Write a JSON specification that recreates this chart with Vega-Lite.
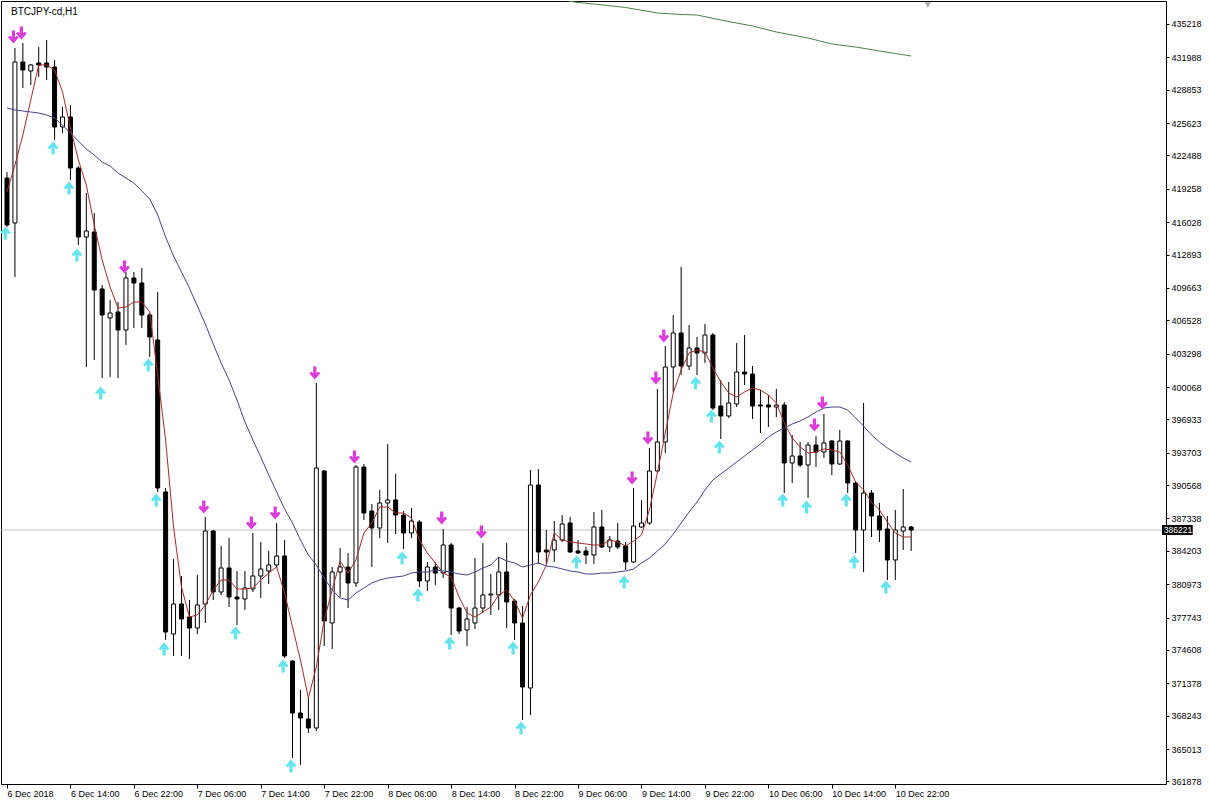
{
"$schema": "https://vega.github.io/schema/vega-lite/v6.json",
"width": 1165, "height": 783,
"autosize": {"type": "none"},
"padding": {"left": 1, "top": 1, "right": 44, "bottom": 22},
"background": "#ffffff",
"config": {"view": {"stroke": "#000000", "strokeWidth": 1}, "font": "Liberation Sans", "axis": {"labelOverlap": false, "labelSeparation": 0, "labelFlush": false, "labelBound": false, "grid": false, "title": null}},
"datasets": {
"candles": [
{"i":0,"open":420306,"high":420887,"low":415562,"close":415755},
{"i":1,"open":415949,"high":432894,"low":410720,"close":431539},
{"i":2,"open":431539,"high":433378,"low":429021,"close":430764},
{"i":3,"open":430667,"high":431345,"low":429311,"close":431248},
{"i":4,"open":431442,"high":432991,"low":430086,"close":431248},
{"i":5,"open":431442,"high":433669,"low":429796,"close":431054},
{"i":6,"open":431054,"high":431732,"low":423986,"close":425245},
{"i":7,"open":425245,"high":427181,"low":424664,"close":426213},
{"i":8,"open":426213,"high":427375,"low":420113,"close":421275},
{"i":9,"open":421275,"high":421470,"low":413819,"close":414593},
{"i":10,"open":414593,"high":418854,"low":402005,"close":415174},
{"i":11,"open":415077,"high":416917,"low":402683,"close":409461},
{"i":12,"open":409558,"high":409945,"low":400940,"close":407041},
{"i":13,"open":406750,"high":408493,"low":401037,"close":407234},
{"i":14,"open":407331,"high":408299,"low":400940,"close":405588},
{"i":15,"open":405588,"high":411204,"low":404136,"close":410623},
{"i":16,"open":410623,"high":411204,"low":405782,"close":410139},
{"i":17,"open":410139,"high":411592,"low":405782,"close":407041},
{"i":18,"open":407041,"high":407234,"low":402974,"close":404910},
{"i":19,"open":404620,"high":409268,"low":389902,"close":390289},
{"i":20,"open":389902,"high":390289,"low":375571,"close":376345},
{"i":21,"open":376152,"high":383414,"low":374021,"close":379057},
{"i":22,"open":379057,"high":381768,"low":374021,"close":377604},
{"i":23,"open":377798,"high":379444,"low":373731,"close":376733},
{"i":24,"open":376733,"high":381865,"low":376152,"close":378960},
{"i":25,"open":379057,"high":387481,"low":377217,"close":386125},
{"i":26,"open":386125,"high":386222,"low":379444,"close":380219},
{"i":27,"open":380219,"high":384673,"low":379928,"close":382543},
{"i":28,"open":382543,"high":385447,"low":378766,"close":379735},
{"i":29,"open":379735,"high":382252,"low":377023,"close":379541},
{"i":30,"open":379541,"high":382252,"low":378476,"close":380606},
{"i":31,"open":380509,"high":385932,"low":380219,"close":381768},
{"i":32,"open":381768,"high":385060,"low":379638,"close":382446},
{"i":33,"open":382252,"high":384189,"low":380993,"close":382833},
{"i":34,"open":382833,"high":386900,"low":382543,"close":383705},
{"i":35,"open":383705,"high":385254,"low":373828,"close":374021},
{"i":36,"open":373537,"high":373634,"low":364145,"close":368502},
{"i":37,"open":368502,"high":370729,"low":363467,"close":368018},
{"i":38,"open":367921,"high":369955,"low":366566,"close":367050},
{"i":39,"open":367050,"high":400456,"low":366759,"close":392226},
{"i":40,"open":391935,"high":392032,"low":374990,"close":377411},
{"i":41,"open":377217,"high":382639,"low":374699,"close":382155},
{"i":42,"open":382155,"high":384479,"low":379735,"close":382639},
{"i":43,"open":382639,"high":383995,"low":378669,"close":381090},
{"i":44,"open":381090,"high":392516,"low":380703,"close":392322},
{"i":45,"open":392322,"high":392613,"low":387190,"close":387868},
{"i":46,"open":388062,"high":388740,"low":382639,"close":386416},
{"i":47,"open":386416,"high":390095,"low":385447,"close":388837},
{"i":48,"open":388837,"high":394550,"low":384963,"close":389127},
{"i":49,"open":389127,"high":391645,"low":385835,"close":387675},
{"i":50,"open":387675,"high":388062,"low":384382,"close":385932},
{"i":51,"open":385932,"high":388352,"low":385447,"close":387094},
{"i":52,"open":386997,"high":387190,"low":380703,"close":381284},
{"i":53,"open":381284,"high":383124,"low":380316,"close":382639},
{"i":54,"open":382639,"high":383124,"low":380896,"close":382058},
{"i":55,"open":382058,"high":386319,"low":381574,"close":384770},
{"i":56,"open":384770,"high":384963,"low":376055,"close":378669},
{"i":57,"open":378669,"high":378766,"low":376152,"close":376442},
{"i":58,"open":376539,"high":378766,"low":374990,"close":377604},
{"i":59,"open":377217,"high":383511,"low":376636,"close":378669},
{"i":60,"open":378669,"high":384963,"low":378185,"close":379928},
{"i":61,"open":379928,"high":381962,"low":377992,"close":380025},
{"i":62,"open":379928,"high":383608,"low":378476,"close":382155},
{"i":63,"open":382155,"high":384963,"low":376733,"close":379250},
{"i":64,"open":379347,"high":379541,"low":375571,"close":377217},
{"i":65,"open":377217,"high":378863,"low":367824,"close":371020},
{"i":66,"open":370923,"high":392032,"low":368309,"close":390579},
{"i":67,"open":390579,"high":392129,"low":382930,"close":384092},
{"i":68,"open":384286,"high":386222,"low":382930,"close":384092},
{"i":69,"open":384286,"high":387094,"low":383124,"close":385254},
{"i":70,"open":385254,"high":387675,"low":385060,"close":386803},
{"i":71,"open":386900,"high":387481,"low":383995,"close":384092},
{"i":72,"open":384189,"high":385254,"low":383897,"close":383995},
{"i":73,"open":384189,"high":384576,"low":382930,"close":383801},
{"i":74,"open":383801,"high":387965,"low":382930,"close":386513},
{"i":75,"open":386513,"high":388159,"low":384479,"close":384576},
{"i":76,"open":384576,"high":385641,"low":384092,"close":385254},
{"i":77,"open":385157,"high":386900,"low":384382,"close":384576},
{"i":78,"open":384673,"high":385060,"low":382349,"close":383124},
{"i":79,"open":383124,"high":390289,"low":383027,"close":386609},
{"i":80,"open":386513,"high":389127,"low":386416,"close":386900},
{"i":81,"open":386900,"high":394162,"low":386706,"close":391935},
{"i":82,"open":391935,"high":399875,"low":391741,"close":394743},
{"i":83,"open":394743,"high":404039,"low":393678,"close":402005},
{"i":84,"open":402005,"high":407041,"low":399585,"close":405298},
{"i":85,"open":405298,"high":411688,"low":401231,"close":402102},
{"i":86,"open":402102,"high":406072,"low":401715,"close":403845},
{"i":87,"open":403845,"high":404910,"low":401231,"close":403361},
{"i":88,"open":403361,"high":406169,"low":402393,"close":405104},
{"i":89,"open":405104,"high":405298,"low":397842,"close":398035},
{"i":90,"open":398229,"high":400747,"low":395034,"close":397261},
{"i":91,"open":397261,"high":400553,"low":397067,"close":398520},
{"i":92,"open":398423,"high":404329,"low":398132,"close":401521},
{"i":93,"open":401521,"high":405104,"low":400262,"close":401328},
{"i":94,"open":401328,"high":402102,"low":396970,"close":398229},
{"i":95,"open":398326,"high":399778,"low":395615,"close":398229},
{"i":96,"open":398326,"high":399294,"low":396196,"close":398132},
{"i":97,"open":398132,"high":399875,"low":397164,"close":398326},
{"i":98,"open":398326,"high":398616,"low":389805,"close":392710},
{"i":99,"open":392710,"high":395421,"low":390773,"close":393388},
{"i":100,"open":393388,"high":394743,"low":392322,"close":392516},
{"i":101,"open":392516,"high":394743,"low":389321,"close":394453},
{"i":102,"open":394453,"high":395324,"low":392322,"close":393775},
{"i":103,"open":393775,"high":397454,"low":393194,"close":394646},
{"i":104,"open":394840,"high":394937,"low":391548,"close":392613},
{"i":105,"open":392613,"high":395905,"low":392516,"close":394840},
{"i":106,"open":394840,"high":394937,"low":389805,"close":390773},
{"i":107,"open":390773,"high":390870,"low":383995,"close":386222},
{"i":108,"open":386222,"high":398520,"low":382155,"close":389805},
{"i":109,"open":389805,"high":390095,"low":385544,"close":387578},
{"i":110,"open":387578,"high":388837,"low":385060,"close":386222},
{"i":111,"open":386319,"high":387578,"low":381381,"close":383317},
{"i":112,"open":383317,"high":388159,"low":381381,"close":386222},
{"i":113,"open":386125,"high":390192,"low":384286,"close":386513},
{"i":114,"open":386513,"high":386610,"low":384189,"close":386221}
],
"fast": [
{"i":0,"v":418951},{"i":1,"v":421565},{"i":2,"v":424470},{"i":3,"v":427859},{"i":4,"v":431248},{"i":5,"v":431248},{"i":6,"v":430764},{"i":7,"v":428634},{"i":8,"v":425148},{"i":9,"v":422049},
{"i":10,"v":419628},{"i":11,"v":415755},{"i":12,"v":412366},{"i":13,"v":409752},{"i":14,"v":407718},{"i":15,"v":407815},{"i":16,"v":408299},{"i":17,"v":408299},{"i":18,"v":407331},{"i":19,"v":401231},
{"i":20,"v":394937},{"i":21,"v":386513},{"i":22,"v":380703},{"i":23,"v":377798},{"i":24,"v":377992},{"i":25,"v":378960},{"i":26,"v":380412},{"i":27,"v":381381},{"i":28,"v":381381},{"i":29,"v":380509},
{"i":30,"v":380509},{"i":31,"v":380606},{"i":32,"v":381381},{"i":33,"v":382058},{"i":34,"v":382639},{"i":35,"v":380122},{"i":36,"v":376830},{"i":37,"v":373634},{"i":38,"v":369955},{"i":39,"v":372956},
{"i":40,"v":377507},{"i":41,"v":380412},{"i":42,"v":383220},{"i":43,"v":382058},{"i":44,"v":383317},{"i":45,"v":385932},{"i":46,"v":386900},{"i":47,"v":388449},{"i":48,"v":388449},{"i":49,"v":387868},
{"i":50,"v":387868},{"i":51,"v":387384},{"i":52,"v":385254},{"i":53,"v":383995},{"i":54,"v":383027},{"i":55,"v":382058},{"i":56,"v":381671},{"i":57,"v":379735},{"i":58,"v":378185},{"i":59,"v":377798},
{"i":60,"v":378282},{"i":61,"v":378766},{"i":62,"v":379928},{"i":63,"v":380412},{"i":64,"v":379347},{"i":65,"v":377701},{"i":66,"v":379928},{"i":67,"v":381187},{"i":68,"v":382833},{"i":69,"v":385932},
{"i":70,"v":385254},{"i":71,"v":385060},{"i":72,"v":384963},{"i":73,"v":384867},{"i":74,"v":384770},{"i":75,"v":384770},{"i":76,"v":385254},{"i":77,"v":385060},{"i":78,"v":384673},{"i":79,"v":385157},
{"i":80,"v":385738},{"i":81,"v":388159},{"i":82,"v":391741},{"i":83,"v":395615},{"i":84,"v":399488},{"i":85,"v":401715},{"i":86,"v":403361},{"i":87,"v":403652},{"i":88,"v":403458},{"i":89,"v":401909},
{"i":90,"v":400553},{"i":91,"v":399488},{"i":92,"v":399101},{"i":93,"v":399585},{"i":94,"v":399972},{"i":95,"v":399778},{"i":96,"v":399294},{"i":97,"v":398520},{"i":98,"v":396583},{"i":99,"v":395131},
{"i":100,"v":394259},{"i":101,"v":393678},{"i":102,"v":393775},{"i":103,"v":394065},{"i":104,"v":393969},{"i":105,"v":393775},{"i":106,"v":392516},{"i":107,"v":390870},{"i":108,"v":390095},{"i":109,"v":388933},
{"i":110,"v":388159},{"i":111,"v":386997},{"i":112,"v":385932},{"i":113,"v":385544},{"i":114,"v":385544}
],
"slow": [
{"i":0,"v":427084},{"i":1,"v":426891},{"i":2,"v":426794},{"i":3,"v":426697},{"i":4,"v":426600},{"i":5,"v":426407},{"i":6,"v":426116},{"i":7,"v":425438},{"i":8,"v":424664},{"i":9,"v":423889},
{"i":10,"v":423114},{"i":11,"v":422533},{"i":12,"v":421856},{"i":13,"v":421468},{"i":14,"v":420790},{"i":15,"v":420306},{"i":16,"v":419822},{"i":17,"v":419048},{"i":18,"v":418273},{"i":19,"v":416724},
{"i":20,"v":414593},{"i":21,"v":412754},{"i":22,"v":411204},{"i":23,"v":409655},{"i":24,"v":407912},{"i":25,"v":406169},{"i":26,"v":404233},{"i":27,"v":402393},{"i":28,"v":400747},{"i":29,"v":398810},
{"i":30,"v":396680},{"i":31,"v":394937},{"i":32,"v":393291},{"i":33,"v":391548},{"i":34,"v":389902},{"i":35,"v":388256},{"i":36,"v":386900},{"i":37,"v":385254},{"i":38,"v":383801},{"i":39,"v":382833},
{"i":40,"v":381574},{"i":41,"v":380412},{"i":42,"v":379638},{"i":43,"v":379444},{"i":44,"v":380122},{"i":45,"v":380606},{"i":46,"v":381090},{"i":47,"v":381381},{"i":48,"v":381574},{"i":49,"v":381671},
{"i":50,"v":381768},{"i":51,"v":382058},{"i":52,"v":382155},{"i":53,"v":382155},{"i":54,"v":382349},{"i":55,"v":382252},{"i":56,"v":382155},{"i":57,"v":381962},{"i":58,"v":381865},{"i":59,"v":382155},
{"i":60,"v":382543},{"i":61,"v":382833},{"i":62,"v":383608},{"i":63,"v":383220},{"i":64,"v":383027},{"i":65,"v":382639},{"i":66,"v":382833},{"i":67,"v":383027},{"i":68,"v":382736},{"i":69,"v":382639},
{"i":70,"v":382446},{"i":71,"v":382252},{"i":72,"v":382155},{"i":73,"v":381962},{"i":74,"v":381962},{"i":75,"v":382058},{"i":76,"v":382058},{"i":77,"v":382155},{"i":78,"v":382252},{"i":79,"v":382446},
{"i":80,"v":383027},{"i":81,"v":383511},{"i":82,"v":384189},{"i":83,"v":384867},{"i":84,"v":385835},{"i":85,"v":386900},{"i":86,"v":387965},{"i":87,"v":388933},{"i":88,"v":390095},{"i":89,"v":391064},
{"i":90,"v":391645},{"i":91,"v":392226},{"i":92,"v":392807},{"i":93,"v":393388},{"i":94,"v":393969},{"i":95,"v":394550},{"i":96,"v":395227},{"i":97,"v":395711},{"i":98,"v":396099},{"i":99,"v":396486},
{"i":100,"v":396777},{"i":101,"v":397164},{"i":102,"v":397648},{"i":103,"v":398035},{"i":104,"v":398132},{"i":105,"v":398132},{"i":106,"v":397842},{"i":107,"v":397067},{"i":108,"v":396292},{"i":109,"v":395421},
{"i":110,"v":394743},{"i":111,"v":394162},{"i":112,"v":393678},{"i":113,"v":393194},{"i":114,"v":392807}
],
"long": [
{"i":70,"v":437542},{"i":72,"v":437300},{"i":74,"v":437155},{"i":78,"v":436816},{"i":82,"v":436283},{"i":85,"v":436138},{"i":87,"v":436090},{"i":90,"v":435605},{"i":94,"v":435024},{"i":97,"v":434443},{"i":101,"v":433862},{"i":104,"v":433281},{"i":107,"v":432991},{"i":110,"v":432603},{"i":114,"v":432120}
],
"arrows": [
{"i":1,"v":433959,"dir":"down"},{"i":2,"v":434347,"dir":"down"},{"i":15,"v":411688,"dir":"down"},{"i":25,"v":388449,"dir":"down"},{"i":31,"v":386900,"dir":"down"},{"i":34,"v":387868,"dir":"down"},{"i":39,"v":401424,"dir":"down"},{"i":44,"v":393291,"dir":"down"},{"i":55,"v":387384,"dir":"down"},{"i":60,"v":386028,"dir":"down"},{"i":79,"v":391257,"dir":"down"},{"i":81,"v":395131,"dir":"down"},{"i":82,"v":400940,"dir":"down"},{"i":83,"v":405007,"dir":"down"},{"i":102,"v":396389,"dir":"down"},{"i":103,"v":398520,"dir":"down"},
{"i":0,"v":414981,"dir":"up"},{"i":6,"v":423211,"dir":"up"},{"i":8,"v":419338,"dir":"up"},{"i":9,"v":412850,"dir":"up"},{"i":12,"v":399488,"dir":"up"},{"i":18,"v":402199,"dir":"up"},{"i":19,"v":389127,"dir":"up"},{"i":20,"v":374699,"dir":"up"},{"i":29,"v":376249,"dir":"up"},{"i":35,"v":373053,"dir":"up"},{"i":36,"v":363370,"dir":"up"},{"i":50,"v":383511,"dir":"up"},{"i":52,"v":379928,"dir":"up"},{"i":56,"v":375280,"dir":"up"},{"i":64,"v":374796,"dir":"up"},{"i":65,"v":367050,"dir":"up"},{"i":72,"v":383124,"dir":"up"},{"i":78,"v":381187,"dir":"up"},{"i":87,"v":400456,"dir":"up"},{"i":89,"v":397261,"dir":"up"},{"i":90,"v":394259,"dir":"up"},{"i":98,"v":389127,"dir":"up"},{"i":101,"v":388449,"dir":"up"},{"i":106,"v":389127,"dir":"up"},{"i":107,"v":383124,"dir":"up"},{"i":111,"v":380703,"dir":"up"}
]
},
"layer": [
{
"data": {"values": [{"price": 386221}]},
"mark": {"type": "rule", "color": "#c4c4c4", "strokeWidth": 1},
"encoding": {
"y": {"field": "price", "type": "quantitative", "title": null, "scale": {"domain": [361627, 437445], "nice": false, "zero": false},
"axis": {"title": null, "orient": "right", "tickCount": 60, "values": [435218,431988,428853,425623,422488,419258,416028,412893,409663,406528,403298,400068,396933,393703,390568,387338,384203,380973,377743,374608,371378,368243,365013,361878],
"format": "d", "tickSize": 3, "tickColor": "#000000", "labelPadding": 2, "domain": false, "grid": false,
"labelFont": "Liberation Sans", "labelFontSize": 9, "labelColor": "#000000", "labelOverlap": false, "labelFlush": false, "labelBound": false, "labelBaseline": "middle"}}
}
},
{
"data": {"name": "candles"},
"mark": {"type": "rule", "color": "#000000", "strokeWidth": 1, "clip": true},
"encoding": {
"x": {"field": "i", "type": "quantitative", "title": null, "scale": {"domain": [-0.125, 145.5], "nice": false, "zero": false},
"axis": {"title": null, "tickCount": 60, "values": [0,8,16,24,32,40,48,56,64,72,80,88,96,104,112],
"labelExpr": "['6 Dec 2018','6 Dec 14:00','6 Dec 22:00','7 Dec 06:00','7 Dec 14:00','7 Dec 22:00','8 Dec 06:00','8 Dec 14:00','8 Dec 22:00','9 Dec 06:00','9 Dec 14:00','9 Dec 22:00','10 Dec 06:00','10 Dec 14:00','10 Dec 22:00'][round(datum.value/8)]",
"labelAlign": "left", "labelBaseline": "top", "labelPadding": 1, "tickSize": 4, "tickColor": "#000000", "domain": false, "grid": false,
"labelFont": "Liberation Sans", "labelFontSize": 9, "labelColor": "#000000", "labelOverlap": false, "labelFlush": false, "labelBound": false}},
"y": {"field": "low", "type": "quantitative", "title": null, "scale": {"domain": [361627, 437445], "nice": false, "zero": false}},
"y2": {"field": "high"}
}
},
{
"data": {"name": "candles"},
"mark": {"type": "bar", "width": 4, "stroke": "#000000", "strokeWidth": 1, "clip": true},
"encoding": {
"x": {"field": "i", "type": "quantitative", "title": null, "scale": {"domain": [-0.125, 145.5], "nice": false, "zero": false}},
"y": {"field": "open", "type": "quantitative", "title": null, "scale": {"domain": [361627, 437445], "nice": false, "zero": false}},
"y2": {"field": "close"},
"fill": {"condition": {"test": "datum.close >= datum.open", "value": "#ffffff"}, "value": "#000000"}
}
},
{
"data": {"name": "fast"},
"mark": {"type": "line", "color": "#a52a2a", "strokeWidth": 1, "clip": true},
"encoding": {
"x": {"field": "i", "type": "quantitative", "title": null, "scale": {"domain": [-0.125, 145.5], "nice": false, "zero": false}},
"y": {"field": "v", "type": "quantitative", "title": null, "scale": {"domain": [361627, 437445], "nice": false, "zero": false}}
}
},
{
"data": {"name": "slow"},
"mark": {"type": "line", "color": "#46428c", "strokeWidth": 1, "clip": true},
"encoding": {
"x": {"field": "i", "type": "quantitative", "title": null, "scale": {"domain": [-0.125, 145.5], "nice": false, "zero": false}},
"y": {"field": "v", "type": "quantitative", "title": null, "scale": {"domain": [361627, 437445], "nice": false, "zero": false}}
}
},
{
"data": {"name": "long"},
"mark": {"type": "line", "color": "#4f7f4f", "strokeWidth": 1, "clip": true},
"encoding": {
"x": {"field": "i", "type": "quantitative", "title": null, "scale": {"domain": [-0.125, 145.5], "nice": false, "zero": false}},
"y": {"field": "v", "type": "quantitative", "title": null, "scale": {"domain": [361627, 437445], "nice": false, "zero": false}}
}
},
{
"data": {"name": "arrows"},
"transform": [{"filter": "datum.dir == 'down'"}],
"mark": {"type": "point", "filled": true, "opacity": 1, "size": 169, "color": "#dc3cdc", "clip": true, "xOffset": -1.5,
"shape": "M0,1L0.85,0.05L0.5,-0.2L0.25,0.05L0.25,-1L-0.25,-1L-0.25,0.05L-0.5,-0.2L-0.85,0.05Z"},
"encoding": {
"x": {"field": "i", "type": "quantitative", "title": null, "scale": {"domain": [-0.125, 145.5], "nice": false, "zero": false}},
"y": {"field": "v", "type": "quantitative", "title": null, "scale": {"domain": [361627, 437445], "nice": false, "zero": false}}
}
},
{
"data": {"name": "arrows"},
"transform": [{"filter": "datum.dir == 'up'"}],
"mark": {"type": "point", "filled": true, "opacity": 1, "size": 169, "color": "#66e4ee", "clip": true, "xOffset": -1.5,
"shape": "M0,-1L0.85,-0.05L0.5,0.2L0.25,-0.05L0.25,1L-0.25,1L-0.25,-0.05L-0.5,0.2L-0.85,-0.05Z"},
"encoding": {
"x": {"field": "i", "type": "quantitative", "title": null, "scale": {"domain": [-0.125, 145.5], "nice": false, "zero": false}},
"y": {"field": "v", "type": "quantitative", "title": null, "scale": {"domain": [361627, 437445], "nice": false, "zero": false}}
}
},
{
"data": {"values": [{"label": "BTCJPY-cd,H1", "x": 0.5, "y": 436428}]},
"mark": {"type": "text", "align": "left", "baseline": "middle", "font": "Liberation Sans", "fontSize": 10, "color": "#000000"},
"encoding": {
"x": {"field": "x", "type": "quantitative", "title": null, "scale": {"domain": [-0.125, 145.5], "nice": false, "zero": false}},
"y": {"field": "y", "type": "quantitative", "title": null, "scale": {"domain": [361627, 437445], "nice": false, "zero": false}},
"text": {"field": "label"}
}
},
{
"data": {"values": [{"x": 116.1, "y": 437058}]},
"mark": {"type": "point", "shape": "triangle-down", "filled": true, "opacity": 1, "size": 40, "color": "#a8a8a8"},
"encoding": {
"x": {"field": "x", "type": "quantitative", "title": null, "scale": {"domain": [-0.125, 145.5], "nice": false, "zero": false}},
"y": {"field": "y", "type": "quantitative", "title": null, "scale": {"domain": [361627, 437445], "nice": false, "zero": false}}
}
},
{
"data": {"values": [{"x": 145.625, "x2": 149.5, "y": 386706, "y2": 385738}]},
"mark": {"type": "rect", "color": "#000000", "clip": false},
"encoding": {
"x": {"field": "x", "type": "quantitative", "title": null, "scale": {"domain": [-0.125, 145.5], "nice": false, "zero": false}},
"x2": {"field": "x2"},
"y": {"field": "y", "type": "quantitative", "title": null, "scale": {"domain": [361627, 437445], "nice": false, "zero": false}},
"y2": {"field": "y2"}
}
},
{
"data": {"values": [{"price": 386221, "x": 145.85}]},
"mark": {"type": "text", "align": "left", "baseline": "middle", "font": "Liberation Sans", "fontSize": 8.5, "color": "#ffffff", "clip": false},
"encoding": {
"x": {"field": "x", "type": "quantitative", "title": null, "scale": {"domain": [-0.125, 145.5], "nice": false, "zero": false}},
"y": {"field": "price", "type": "quantitative", "title": null, "scale": {"domain": [361627, 437445], "nice": false, "zero": false}},
"text": {"field": "price", "type": "quantitative", "format": "d"}
}
}
]
}
